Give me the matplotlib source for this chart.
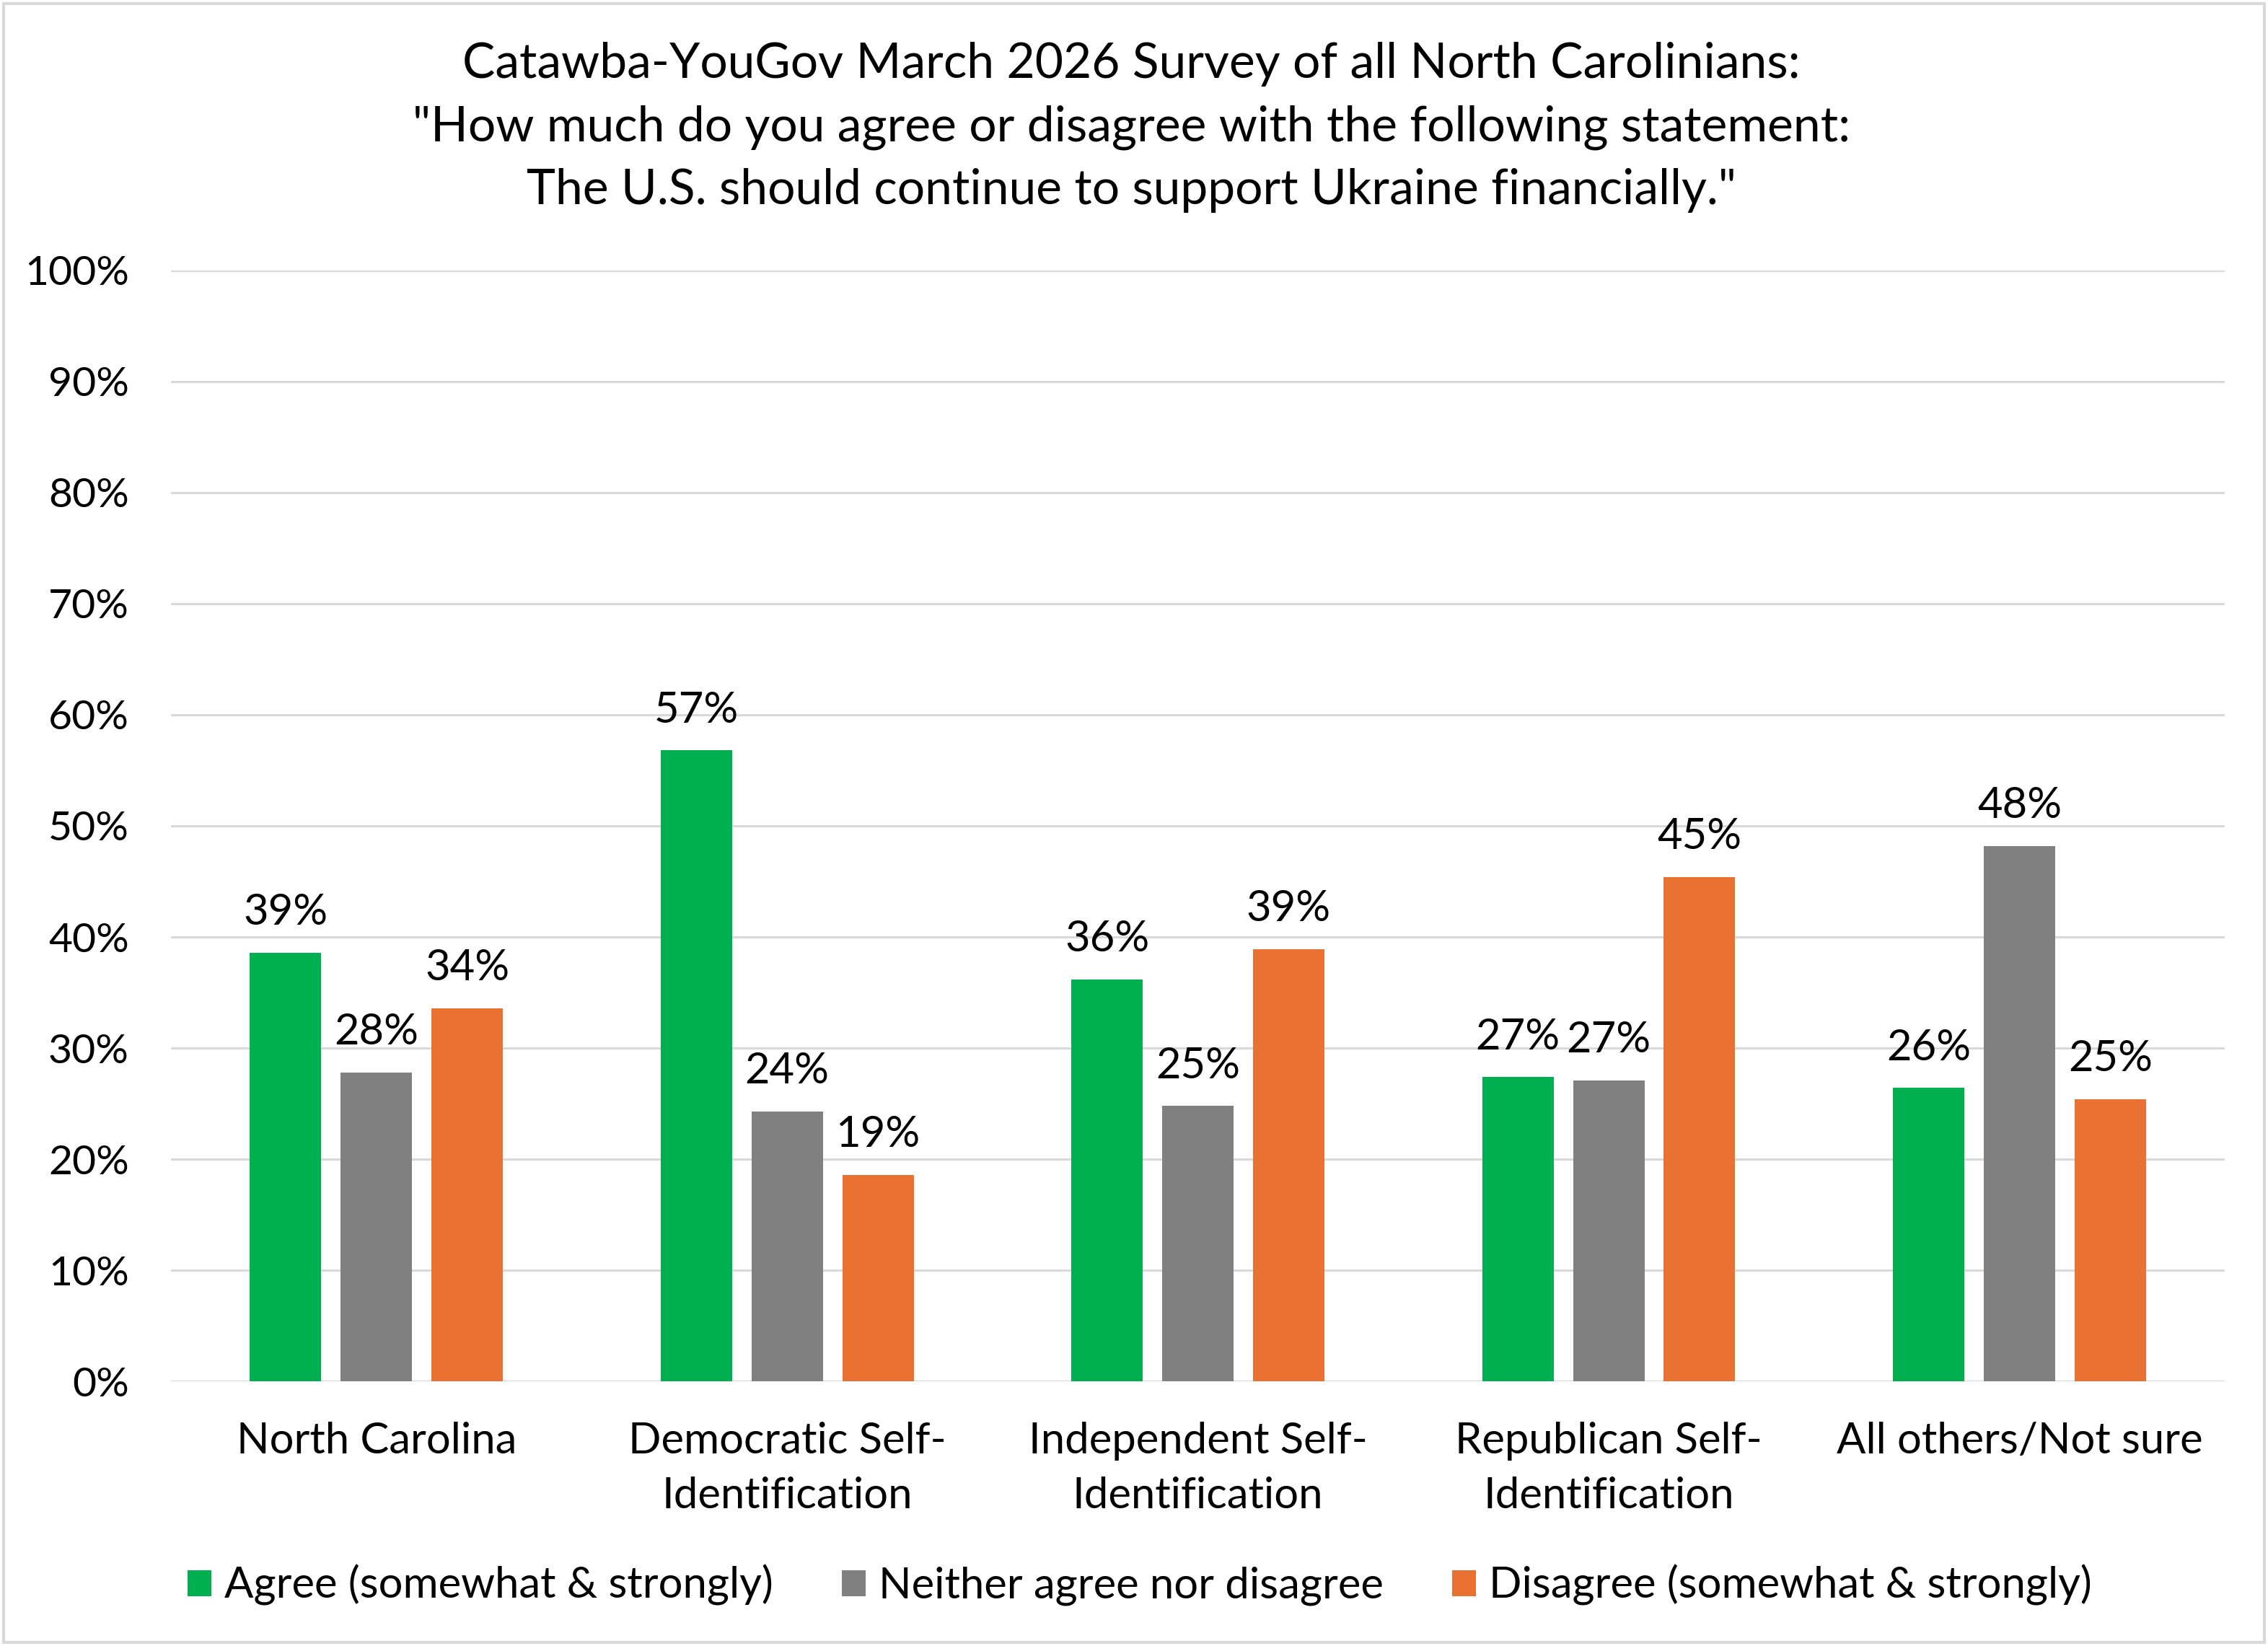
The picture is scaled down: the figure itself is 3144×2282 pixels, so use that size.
import numpy as np
import matplotlib.pyplot as plt
from matplotlib.patches import Rectangle

plt.rcParams['font.family'] = ['Lato', 'DejaVu Sans']

# datos
categorias = ['North Carolina', 'Democratic Self-\nIdentification', 'Independent Self-\nIdentification',
              'Republican Self-\nIdentification', 'All others/Not sure']
series = ['Agree (somewhat & strongly)', 'Neither agree nor disagree', 'Disagree (somewhat & strongly)']
agree = [38.6, 56.8, 36.2, 27.4, 26.4]
neither = [27.8, 24.3, 24.8, 27.1, 48.2]
disagree = [33.6, 18.6, 38.9, 45.4, 25.4]
colores = ['#00B050', '#808080', '#E97132']

titulo = ('Catawba-YouGov March 2026 Survey of all North Carolinians:\n'
          '"How much do you agree or disagree with the following statement:\n'
          'The U.S. should continue to support Ukraine financially."')

fig = plt.figure(figsize=(15.72, 11.41), dpi=200)
ax = fig.add_axes([0.0754, 0.1608, 0.9056, 0.6749])

x = np.arange(len(categorias))
ancho = 0.174
paso = 0.221

for i, (vals, nombre) in enumerate(zip([agree, neither, disagree], series)):
    barras = ax.bar(x + (i - 1) * paso, vals, ancho, color=colores[i], label=nombre, zorder=3)
    for b, v in zip(barras, vals):
        ax.annotate(f'{round(v)}%', (b.get_x() + b.get_width() / 2, v),
                    xytext=(0, 20), textcoords='offset points',
                    ha='center', va='center', fontsize=21.5)

ax.set_xlim(-0.5, len(categorias) - 0.5)
ax.set_ylim(0, 100)
ax.set_yticks(range(0, 101, 10))
ax.set_yticklabels([f'{t}%' for t in range(0, 101, 10)], fontsize=20.5)
ax.set_xticks(x)
ax.set_xticklabels(categorias, fontsize=21.5, linespacing=1.5)
ax.tick_params(axis='both', length=0)
ax.tick_params(axis='y', pad=21)
ax.tick_params(axis='x', pad=20)
ax.grid(axis='y', color='#D9D9D9', linewidth=1.1, zorder=0)
for s in ['top', 'right', 'left', 'bottom']:
    ax.spines[s].set_visible(False)

fig.text(0.4988, 0.9227, titulo, ha='center', va='center', fontsize=24.4, linespacing=1.5)

fig.legend(loc='center', bbox_to_anchor=(0.5025, 0.037), ncol=3, frameon=False,
           fontsize=21.5, handlelength=0.55, handleheight=0.55, handletextpad=0.3,
           columnspacing=1.6)

# borde del area del grafico
fig.patches.append(Rectangle((0.0015, 0.002), 0.997, 0.996, transform=fig.transFigure,
                             fill=False, edgecolor='#D9D9D9', linewidth=1.5))

fig.savefig('out.png', dpi=200)
